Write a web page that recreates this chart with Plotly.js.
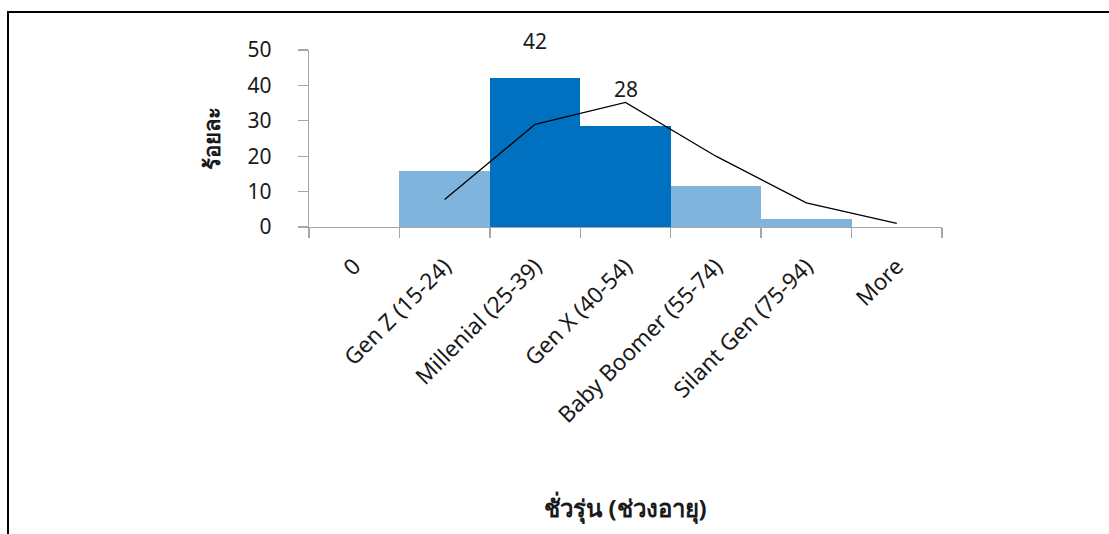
<!DOCTYPE html>
<html>
<head>
<meta charset="utf-8">
<script src="https://cdn.plot.ly/plotly-3.0.1.min.js"></script>
<style>
  html, body { margin: 0; padding: 0; background: #fff; }
  #wrap { position: relative; width: 1109px; height: 534px; overflow: hidden; }
  #chart { position: absolute; left: 0; top: 0; width: 1109px; height: 534px; }
  #frame { position: absolute; left: 7px; top: 11px; width: 1110px; height: 530px;
           border-top: 2px solid #000; border-left: 2px solid #000; pointer-events: none; }
</style>
</head>
<body>
<div id="wrap">
  <div id="chart"></div>
  <div id="frame"></div>
</div>
<script>
// ---- data ----
const categories = ["0", "Gen Z (15-24)", "Millenial (25-39)", "Gen X (40-54)",
                    "Baby Boomer (55-74)", "Silant Gen (75-94)", "More"];
const percentValues = [0, 15.8, 42.1, 28.4, 11.5, 2.2, 0];
const curveValues = [null, 7.8, 29.0, 35.2, 20.0, 6.8, 1.0];
const highlighted = [false, false, true, true, false, false, false];
const labelledCategories = ["Millenial (25-39)", "Gen X (40-54)"];
const yTitle = "ร้อยละ";
const xTitle = "ชั่วรุ่น (ช่วงอายุ)";

const lightBlue = "#7fb4dd";
const darkBlue = "#0070c0";
const axisGrey = "#a6a6a6";
const textColor = "#1a1a1a";
const fontFamily = "'Noto Sans', 'Open Sans', sans-serif";

const barColors = highlighted.map(h => h ? darkBlue : lightBlue);

const bars = {
  type: "bar",
  x: categories,
  y: percentValues,
  marker: { color: barColors, line: { width: 0 } },
  hoverinfo: "x+y"
};

const curve = {
  type: "scatter",
  mode: "lines",
  x: categories,
  y: curveValues,
  line: { color: "#000", width: 1.3 },
  connectgaps: false,
  hoverinfo: "x+y"
};

const annotations = labelledCategories.map(c => {
  const v = percentValues[categories.indexOf(c)];
  return {
    x: c, y: v, xref: "x", yref: "y",
    text: String(Math.round(v)),
    showarrow: false, yshift: 37,
    font: { family: fontFamily, size: 21, color: textColor }
  };
});

const layout = {
  width: 1109, height: 534,
  margin: { l: 309, r: 167, t: 50, b: 307, pad: 0 },
  paper_bgcolor: "#fff", plot_bgcolor: "#fff",
  showlegend: false,
  bargap: 0,
  font: { family: fontFamily, color: textColor },
  xaxis: {
    type: "category",
    categoryorder: "array", categoryarray: categories,
    tickson: "boundaries",
    ticks: "outside", ticklen: 10, tickcolor: axisGrey, tickwidth: 1.3,
    showline: true, linecolor: axisGrey, linewidth: 1.3,
    showgrid: false, zeroline: false,
    tickangle: -45,
    ticklabelstandoff: 16,
    tickfont: { family: fontFamily, size: 22.5, color: textColor },
    automargin: false,
    title: { text: xTitle, standoff: 72,
             font: { family: fontFamily, size: 24, color: textColor, weight: "bold" } }
  },
  yaxis: {
    range: [0, 50], dtick: 10, tick0: 0,
    ticks: "outside", ticklen: 10, tickcolor: axisGrey, tickwidth: 1.3,
    showline: true, linecolor: axisGrey, linewidth: 1.3,
    showgrid: false, zeroline: false,
    ticklabelstandoff: 22,
    tickfont: { family: fontFamily, size: 21, color: textColor },
    automargin: false,
    title: { text: yTitle, standoff: 20,
             font: { family: fontFamily, size: 22, color: textColor, weight: "bold" } }
  },
  annotations: annotations
};

Plotly.newPlot("chart", [bars, curve], layout, { displayModeBar: false, staticPlot: true });
</script>
</body>
</html>
